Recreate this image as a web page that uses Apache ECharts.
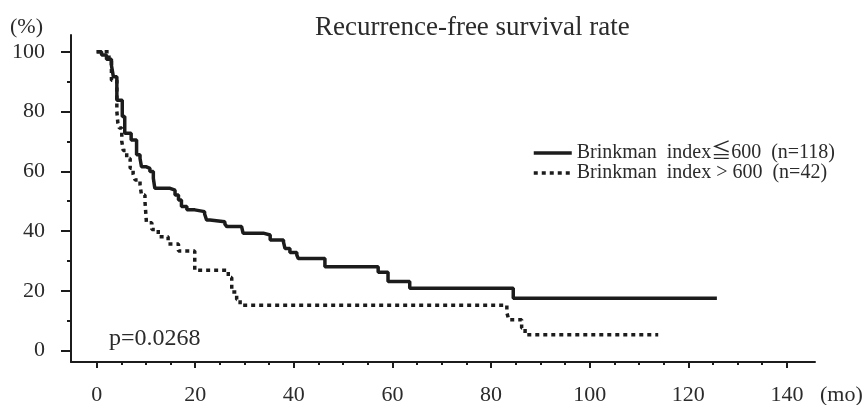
<!DOCTYPE html>
<html>
<head>
    <meta charset="utf-8">
    <title>Recurrence-free survival rate</title>
    <script src="https://cdn.jsdelivr.net/npm/echarts@6/dist/echarts.min.js"></script>
    <style>
        html, body { margin: 0; padding: 0; background: #fff; }
        #chart1 { width: 868px; height: 405px; }
    </style>
</head>
<body>
<div id="chart1"></div>
<script type="text/javascript">
    // 数据：Kaplan-Meier 曲线 [月, %]
    var seriesNames = ['Brinkman  index\u2266600  (n=118)', 'Brinkman  index > 600  (n=42)'];
    var lowIndex = [
        [0, 100], [1.0, 98.9], [2.0, 97.5], [3.0, 95.5], [3.4, 91.6], [4.1, 83.8],
        [5.2, 78.3], [5.7, 72.7], [7.0, 70.5], [8.1, 65.5], [8.8, 64.3], [9.1, 61.5],
        [10.1, 61.0], [10.8, 59.9], [11.5, 57.7], [11.8, 54.3], [14.9, 53.7], [15.9, 52.1],
        [16.6, 50.4], [17.2, 48.2], [18.3, 47.1], [19.9, 46.5], [21.9, 45.7], [22.3, 43.7],
        [23.0, 43.1], [26.0, 42.4], [26.4, 41.5], [29.4, 40.9], [29.7, 39.3], [33.8, 38.7],
        [35.2, 37.0], [37.9, 36.3], [38.2, 34.2], [39.2, 32.8], [40.6, 32.0], [40.9, 30.8],
        [46.3, 28.1], [57.1, 26.2], [59.1, 23.1], [63.5, 20.9], [84.5, 17.5], [125.8, 17.5]
    ];
    var highIndex = [
        [0, 100], [2.5, 97.6], [3.0, 90.5], [4.1, 80.0], [4.3, 76.2], [4.6, 74.5],
        [5.1, 70.0], [5.4, 67.0], [6.1, 64.3], [6.8, 61.0], [7.4, 59.0], [7.8, 57.1],
        [8.8, 55.4], [9.1, 52.1], [9.8, 50.0], [10.1, 42.8], [11.2, 40.5], [12.5, 38.1],
        [14.5, 35.7], [16.6, 33.3], [19.9, 26.9], [26.7, 24.5], [27.4, 19.6], [28.4, 17.1],
        [29.1, 15.2], [83.2, 12.7], [83.6, 10.3], [86.2, 7.6], [86.9, 5.3], [113.9, 5.3]
    ];
    var xTicks = [0, 20, 40, 60, 80, 100, 120, 140];
    var xMinorTicks = [5, 10, 15, 25, 30, 35, 45, 50, 55, 65, 70, 75, 85, 90, 95, 105, 110, 115, 125, 130, 135];
    var yTicks = [0, 20, 40, 60, 80, 100];
    var yMinorTicks = [10, 30, 50, 70, 90];

    var serif = "'Liberation Serif', 'Noto Sans CJK JP', serif";
    var ink = '#1c1c1c';
    var textColor = '#2b2b2b';
    var noSymbol = { color: 'rgba(0,0,0,0)', borderWidth: 0 };

    var myChart1 = echarts.init(document.getElementById('chart1'));

    myChart1.setOption({
        animation: false,
        backgroundColor: '#fff',
        title: {
            text: 'Recurrence-free survival rate',
            left: 315,
            top: 14,
            padding: 0,
            textStyle: { fontFamily: serif, fontSize: 27, fontWeight: 'normal', color: textColor }
        },
        legend: {
            orient: 'vertical',
            left: 532,
            top: 143,
            padding: 0,
            itemGap: 0,
            itemWidth: 38,
            itemHeight: 14,
            textStyle: { fontFamily: serif, fontSize: 20, color: textColor },
            data: [
                { name: seriesNames[0], itemStyle: noSymbol, lineStyle: { color: ink, width: 3.5 } },
                { name: seriesNames[1], itemStyle: noSymbol, lineStyle: { color: ink, width: 3.5, type: [4, 4], cap: 'butt' } }
            ]
        },
        grid: { left: 71, right: 53, top: 35, bottom: 43, outerBoundsMode: 'none' },
        xAxis: [
            {
                type: 'value',
                min: -5.2,
                max: 145.7,
                splitLine: { show: false },
                axisLine: { show: true, onZero: false, lineStyle: { color: ink, width: 2 } },
                axisTick: { show: true, customValues: xTicks, length: 6, lineStyle: { color: ink, width: 2 } },
                axisLabel: { customValues: xTicks, margin: 22, fontFamily: serif, fontSize: 22, color: textColor }
            },
            {
                type: 'value',
                min: -5.2,
                max: 145.7,
                position: 'bottom',
                splitLine: { show: false },
                axisLine: { show: false, onZero: false },
                axisTick: { show: true, customValues: xMinorTicks, length: 3, lineStyle: { color: ink, width: 2 } },
                axisLabel: { show: false }
            }
        ],
        yAxis: [
            {
                type: 'value',
                min: -3.8,
                max: 105.6,
                splitLine: { show: false },
                axisLine: { show: true, onZero: false, lineStyle: { color: ink, width: 2 } },
                axisTick: { show: true, customValues: yTicks, length: 10, lineStyle: { color: ink, width: 2 } },
                axisLabel: { customValues: yTicks, margin: 26, fontFamily: serif, fontSize: 22, color: textColor }
            },
            {
                type: 'value',
                min: -3.8,
                max: 105.6,
                position: 'left',
                splitLine: { show: false },
                axisLine: { show: false, onZero: false },
                axisTick: { show: true, customValues: yMinorTicks, length: 4, lineStyle: { color: ink, width: 2 } },
                axisLabel: { show: false }
            }
        ],
        graphic: [
            { type: 'text', x: 10, y: 27, style: { text: '(%)', font: '22px ' + serif, fill: textColor, align: 'left', verticalAlign: 'middle' } },
            { type: 'text', x: 820, y: 395, style: { text: '(mo)', font: '22px ' + serif, fill: textColor, align: 'left', verticalAlign: 'middle' } },
            { type: 'text', x: 109, y: 339, style: { text: 'p=0.0268', font: '24px ' + serif, fill: textColor, align: 'left', verticalAlign: 'middle' } }
        ],
        series: [
            {
                name: seriesNames[0],
                type: 'line',
                step: 'end',
                symbol: 'none',
                data: lowIndex,
                lineStyle: { color: ink, width: 3.5 },
                itemStyle: { color: ink }
            },
            {
                name: seriesNames[1],
                type: 'line',
                step: 'end',
                symbol: 'none',
                data: highIndex,
                lineStyle: { color: ink, width: 3.5, type: [4, 4], cap: 'butt' },
                itemStyle: { color: ink }
            }
        ]
    });
</script>
</body>
</html>
